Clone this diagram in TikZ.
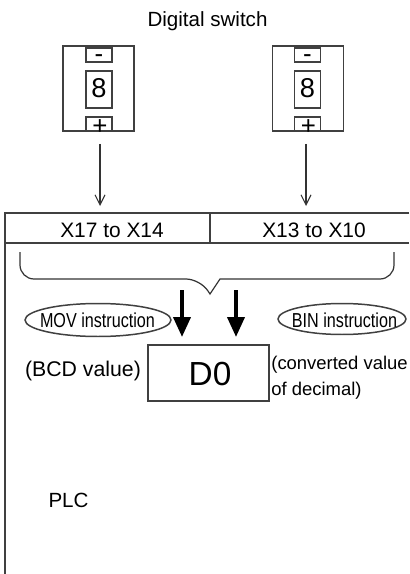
\documentclass[tikz,border=0pt]{standalone}
\usepackage{fontspec}
\setmainfont{Liberation Sans}
\usepackage{graphicx}
\usetikzlibrary{arrows.meta,shapes.geometric}
\newcommand{\fsz}[1]{\fontsize{#1}{#1}\selectfont}
\newcommand{\xs}[2]{\scalebox{#1}[1]{#2}}
\begin{document}
\begin{tikzpicture}[x=0.02cm,y=-0.02cm,
  lc/.style={draw=black!75,line width=0.85pt},
  txt/.style={inner sep=0pt,anchor=base},
  outerbox/.style={lc,rectangle,minimum width=1.42cm,minimum height=1.70cm,inner sep=0pt},
  signbox/.style={lc,rectangle,minimum width=0.52cm,minimum height=0.28cm,inner sep=0pt},
  digitbox/.style={lc,rectangle,minimum width=0.52cm,minimum height=0.74cm,inner sep=0pt},
  thinarrow/.style={draw=black!80,line width=0.6pt,-{Straight Barb[length=5.7pt,width=5.7pt]}},
  thickarrow/.style={draw=black,line width=2.2pt,-{Triangle[length=11.3pt,width=9.6pt]}},
  instr/.style={lc,ellipse,inner sep=0pt},
  xlabel/.style={txt,font=\fsz{11.9pt}},
  ]
\useasboundingbox (0,0) rectangle (409,574);
\fill[white] (0,0) rectangle (409,574);

% title
\node[txt,font=\fsz{11.7pt}] (title) at (207.5,27) {Digital switch};

% left switch
\node[outerbox] (lsw) at (98.5,88.5) {};
\node[signbox] (lminus) at (99,55) {};
\node[digitbox] (ldig) at (99,89.5) {};
\node[signbox] (lplus) at (99,124) {};
\node[txt,font=\fsz{14.7pt}] (lminust) at (99,62.5) {-};
\node[txt,font=\fsz{15.5pt}] (ldigt) at (99,98) {8};
\node[txt,font=\fsz{14.7pt}] (lplust) at (100,135) {+};

% right switch
\node[outerbox] (rsw) at (308,88.5) {};
\node[signbox] (rminus) at (307.5,55) {};
\node[digitbox] (rdig) at (307.5,89.5) {};
\node[signbox] (rplus) at (307.5,124) {};
\node[txt,font=\fsz{14.7pt}] (rminust) at (307.5,62.5) {-};
\node[txt,font=\fsz{15.5pt}] (rdigt) at (307.5,98) {8};
\node[txt,font=\fsz{14.7pt}] (rplust) at (308.5,135) {+};

% thin arrows
\coordinate (a1s) at (100,144);
\coordinate (a1e) at (100,206);
\coordinate (a2s) at (306,144);
\coordinate (a2e) at (306,206);
\draw[thinarrow] (a1s) -- (a1e);
\draw[thinarrow] (a2s) -- (a2e);

% PLC frame
\draw[lc] (409,213) -- (5,213) -- (5,574);
\draw[lc] (5,243) -- (409,243);
\draw[lc] (210,213) -- (210,243);
\node[xlabel] (x1) at (112,237) {X17 to X14};
\node[xlabel] (x2) at (314,237) {X13 to X10};

% brace
\draw[draw=black!80,line width=0.7pt,rounded corners=8] (20,252) -- (20,279) -- (200,279) [sharp corners] -- (210,294) -- (220,279) [rounded corners=8] -- (394,279) -- (394,252);

% thick arrows
\coordinate (b1s) at (182,290);
\coordinate (b1e) at (182,337);
\coordinate (b2s) at (236,290);
\coordinate (b2e) at (236,337);
\draw[thickarrow] (b1s) -- (b1e);
\draw[thickarrow] (b2s) -- (b2e);

% instructions
\node[instr,minimum width=2.92cm,minimum height=0.66cm] (mov) at (98,320) {};
\node[txt,font=\fsz{11.5pt}] (movt) at (97.5,327.5) {\xs{0.8}{MOV instruction}};
\node[instr,minimum width=2.56cm,minimum height=0.62cm] (bin) at (342,319) {};
\node[txt,font=\fsz{11.5pt}] (bint) at (344.5,327.5) {\xs{0.8}{BIN instruction}};

% D0
\node[lc,rectangle,minimum width=2.42cm,minimum height=1.12cm,inner sep=0pt] (d0) at (208.5,373) {};
\node[txt,font=\fsz{19pt}] (d0t) at (210,385) {D0};
\node[txt,font=\fsz{12.1pt}] (bcd) at (83,376) {(BCD value)};
\node[txt,anchor=base west,font=\fsz{10.5pt}] (conv1) at (271,369) {(converted value};
\node[txt,anchor=base west,font=\fsz{10.5pt}] (conv2) at (271,395) {of decimal)};

% PLC label
\node[txt,font=\fsz{11.7pt}] (plc) at (68.5,507) {PLC};
\end{tikzpicture}
\end{document}
